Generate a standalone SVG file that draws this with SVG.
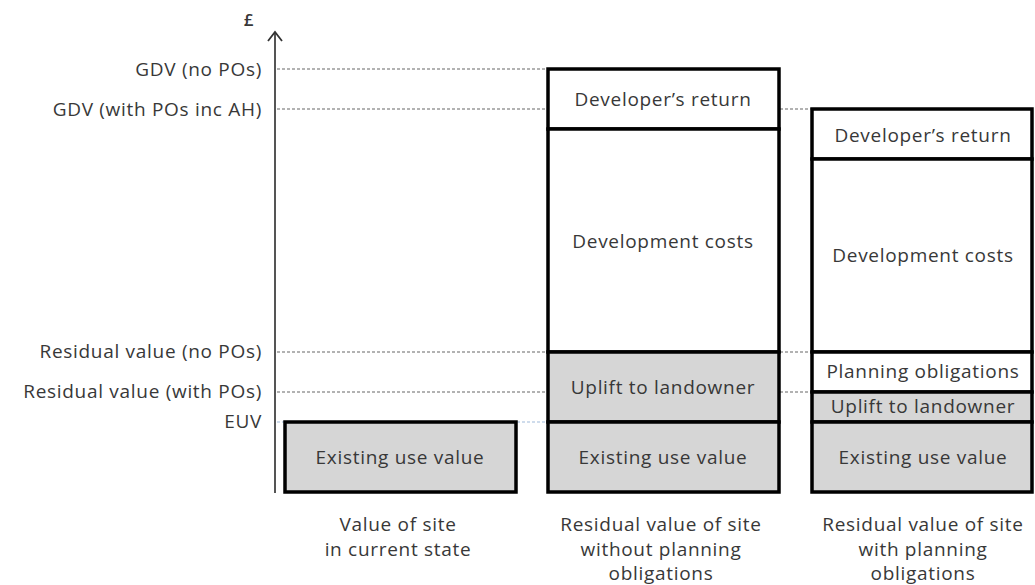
<svg xmlns="http://www.w3.org/2000/svg" width="1035" height="585" viewBox="0 0 1035 585">
<style>
text{font-family:"Open Sans","Liberation Sans",sans-serif;font-size:19px;letter-spacing:0.7px;fill:#383838}
.l{text-anchor:end}
.c{text-anchor:middle}
.box{stroke:#000;stroke-width:3.5;fill:#fff}
.g{fill:#d6d6d6}
.d{stroke:#666;stroke-width:1.2;stroke-dasharray:3 2;fill:none}
.b{stroke:#9fb9da;stroke-width:1.2;stroke-dasharray:3 2;fill:none}
</style>
<g id="connectors">
<line x1="275" y1="493" x2="275" y2="33" stroke="#555" stroke-width="2"/>
<path d="M268,41 L275,32 L282,41" fill="none" stroke="#333" stroke-width="1.8"/>
<line class="d" x1="277" y1="69" x2="548" y2="69"/>
<line class="d" x1="277" y1="109" x2="548" y2="109"/>
<line class="d" x1="780" y1="109" x2="812" y2="109"/>
<line class="d" x1="277" y1="352" x2="548" y2="352"/>
<line class="d" x1="780" y1="352" x2="812" y2="352"/>
<line class="d" x1="277" y1="392" x2="548" y2="392"/>
<line class="d" x1="780" y1="392" x2="812" y2="392"/>
<line class="b" x1="277" y1="422" x2="548" y2="422"/>
</g>
<g id="axis-labels">
<text class="c" x="249" y="26" style="font-size:17px;font-weight:600">£</text>
<text class="l" x="262" y="76">GDV (no POs)</text>
<text class="l" x="262" y="116">GDV (with POs inc AH)</text>
<text class="l" x="262" y="358">Residual value (no POs)</text>
<text class="l" x="262" y="398">Residual value (with POs)</text>
<text class="l" x="262" y="428">EUV</text>
</g>
<g id="col1">
<rect class="box g" x="285" y="422" width="231" height="70"/>
<text class="c" x="400" y="464">Existing use value</text>
</g>
<g id="col2">
<rect class="box" x="548" y="69" width="231" height="60"/>
<text class="c" x="663" y="106">Developer’s return</text>
<rect class="box" x="548" y="129" width="231" height="223"/>
<text class="c" x="663" y="248">Development costs</text>
<rect class="box g" x="548" y="352" width="231" height="70"/>
<text class="c" x="663" y="394">Uplift to landowner</text>
<rect class="box g" x="548" y="422" width="231" height="70"/>
<text class="c" x="663" y="464">Existing use value</text>
</g>
<g id="col3">
<rect class="box" x="812" y="109" width="220" height="50"/>
<text class="c" x="923" y="142">Developer’s return</text>
<rect class="box" x="812" y="159" width="220" height="193"/>
<text class="c" x="923" y="262">Development costs</text>
<rect class="box" x="812" y="352" width="220" height="40"/>
<text class="c" x="923" y="378">Planning obligations</text>
<rect class="box g" x="812" y="392" width="220" height="30"/>
<text class="c" x="923" y="413">Uplift to landowner</text>
<rect class="box g" x="812" y="422" width="220" height="70"/>
<text class="c" x="923" y="464">Existing use value</text>
</g>
<g id="captions">
<text class="c" x="398" y="531">Value of site</text>
<text class="c" x="398" y="556">in current state</text>
<text class="c" x="661" y="531">Residual value of site</text>
<text class="c" x="661" y="556">without planning</text>
<text class="c" x="661" y="580">obligations</text>
<text class="c" x="923" y="531">Residual value of site</text>
<text class="c" x="923" y="556">with planning</text>
<text class="c" x="923" y="580">obligations</text>
</g>
</svg>
